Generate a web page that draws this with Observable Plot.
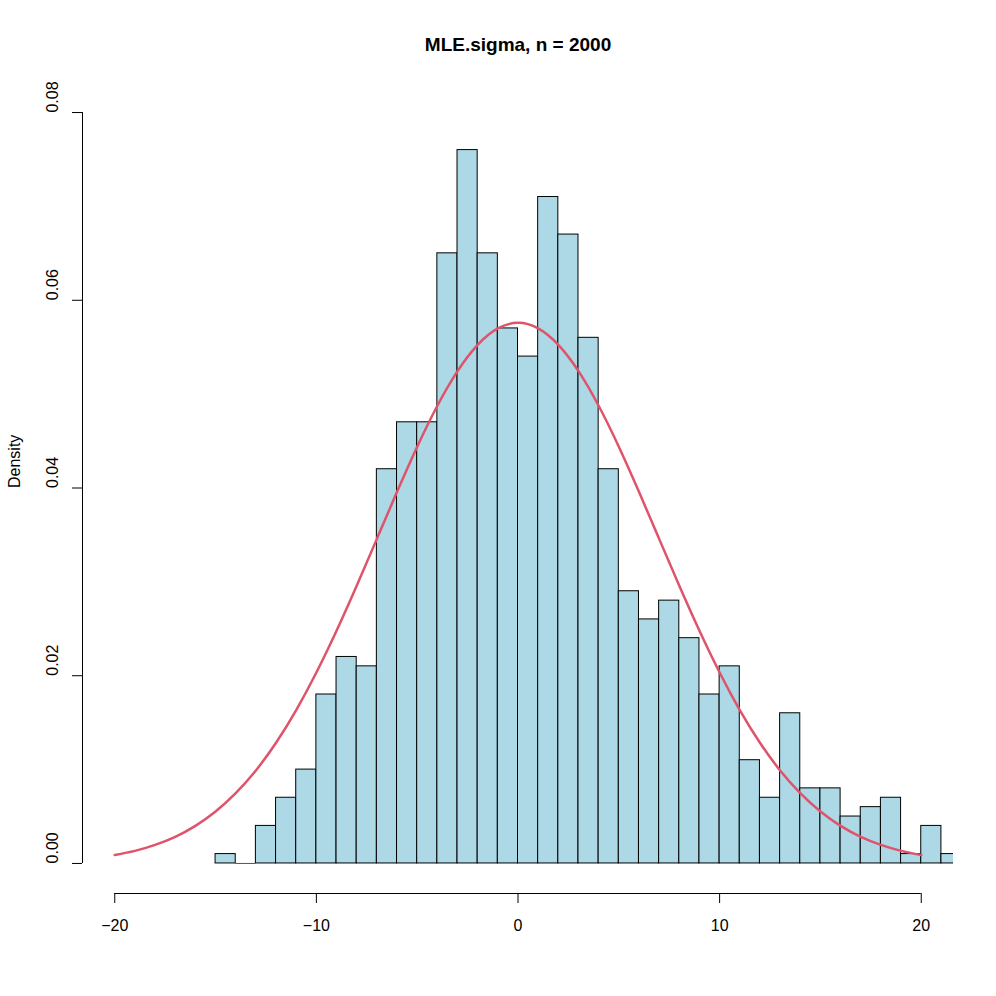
<!DOCTYPE html>
<html>
<head>
<meta charset="utf-8">
<script src="https://cdn.jsdelivr.net/npm/d3@7"></script>
<script src="https://cdn.jsdelivr.net/npm/@observablehq/plot@0.6"></script>
<style>
  html, body { margin: 0; padding: 0; background: white; }
</style>
</head>
<body>
<div id="chart"></div>
<script>
// Histogram bins (left edges, width 1) and densities
const binStarts = [-15,-14,-13,-12,-11,-10,-9,-8,-7,-6,-5,-4,-3,-2,-1,0,1,2,3,4,5,6,7,8,9,10,11,12,13,14,15,16,17,18,19,20,21];
const densities = [0.001,0,0.004,0.007,0.010,0.018,0.022,0.021,0.042,0.047,0.047,0.065,0.076,0.065,0.057,0.054,0.071,0.067,0.056,0.042,0.029,0.026,0.028,0.024,0.018,0.021,0.011,0.007,0.016,0.008,0.008,0.005,0.006,0.007,0.001,0.004,0.001];
const binWidth = 1;

// Fitted density curve
const curveX = [-20,-19,-18,-17,-16,-15,-14,-13,-12,-11,-10,-9,-8,-7,-6,-5,-4,-3,-2,-1,0,1,2,3,4,5,6,7,8,9,10,11,12,13,14,15,16,17,18,19,20];
const curveY = [0.00090,0.00134,0.00198,0.00284,0.00401,0.00554,0.00749,0.00991,0.01286,0.01634,0.02034,0.02479,0.02958,0.03458,0.03959,0.04440,0.04876,0.05245,0.05525,0.05700,0.05760,0.05700,0.05525,0.05245,0.04876,0.04440,0.03959,0.03458,0.02958,0.02479,0.02034,0.01634,0.01286,0.00991,0.00749,0.00554,0.00401,0.00284,0.00198,0.00134,0.00090];

const xTicks = [-20,-10,0,10,20];
const yTicks = [0,0.02,0.04,0.06,0.08];
const title = "MLE.sigma, n = 2000";
const yLabel = "Density";

const xDomain = [-21.6, 21.6];
const yDomain = [-0.0032, 0.0832];

const bars = binStarts.map((s, i) => ({x1: s, x2: s + binWidth, y: densities[i]}));
const emptyBars = bars.filter(d => d.y === 0);
const curve = curveX.map((x, i) => ({x, y: curveY[i]}));

const fmtX = d => d < 0 ? "\u2212" + (-d) : String(d);

const chart = Plot.plot({
  width: 996,
  height: 996,
  marginLeft: 82,
  marginRight: 43,
  marginTop: 82,
  marginBottom: 103,
  style: {fontFamily: "'Liberation Sans', Arial, Helvetica, sans-serif", fontSize: "16px", background: "white", color: "black", overflow: "visible"},
  x: {domain: xDomain, axis: null},
  y: {domain: yDomain, axis: null},
  marks: [
    Plot.rectY(bars, {x1: "x1", x2: "x2", y1: 0, y2: "y", fill: "#ADD8E6", stroke: "black", strokeWidth: 1, clip: true, inset: 0}),
    Plot.ruleY(emptyBars, {x1: "x1", x2: "x2", y: "y", stroke: "#555", strokeWidth: 1}),
    Plot.line(curve, {x: "x", y: "y", stroke: "#DF536B", strokeWidth: 2.5, curve: "natural", clip: true}),
    // x axis
    Plot.ruleY([yDomain[0]], {x1: xTicks[0], x2: xTicks[xTicks.length - 1], stroke: "black", strokeWidth: 1}),
    Plot.axisX({ticks: xTicks, tickSize: 10, tickPadding: 16, tickFormat: fmtX, stroke: "black", fontSize: 16, label: null}),
    // y axis
    Plot.ruleX([xDomain[0]], {y1: yTicks[0], y2: yTicks[yTicks.length - 1], stroke: "black", strokeWidth: 1}),
    Plot.axisY({ticks: yTicks, tickSize: 10, tickFormat: () => "", stroke: "black", label: null}),
    Plot.text(yTicks, {y: d => d, text: d => d.toFixed(2), frameAnchor: "left", rotate: -90, dx: -30, fontSize: 16, fill: "black"}),
    Plot.text([yLabel], {frameAnchor: "left", rotate: -90, dx: -68, fontSize: 16, fill: "black"}),
    Plot.text([title], {frameAnchor: "top", dy: -45, fontSize: 19, fontWeight: "bold", fill: "black"})
  ]
});
document.getElementById("chart").appendChild(chart);
</script>
</body>
</html>
